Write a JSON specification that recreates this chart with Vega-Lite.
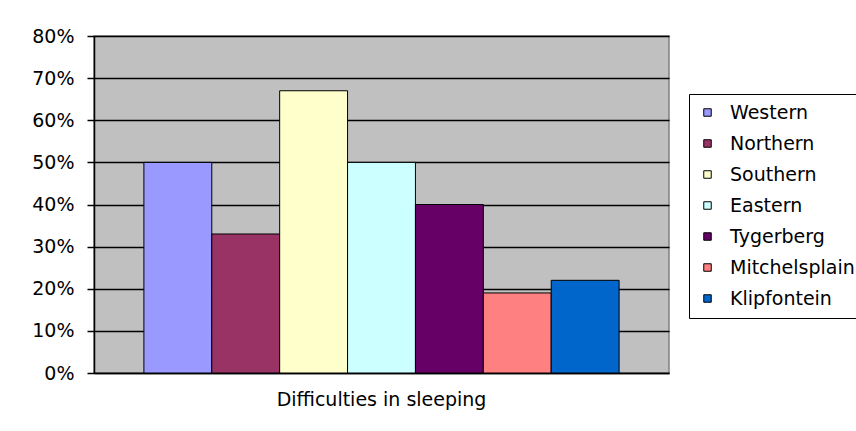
{
  "$schema": "https://vega.github.io/schema/vega-lite/v6.json",
  "width": 575,
  "height": 337,
  "autosize": {"type": "none"},
  "padding": {"left": 94, "top": 36, "right": 187, "bottom": 58},
  "background": "white",
  "data": {
    "values": [
      {"item": "Difficulties in sleeping", "region": "Western", "value": 0.50},
      {"item": "Difficulties in sleeping", "region": "Northern", "value": 0.33},
      {"item": "Difficulties in sleeping", "region": "Southern", "value": 0.67},
      {"item": "Difficulties in sleeping", "region": "Eastern", "value": 0.50},
      {"item": "Difficulties in sleeping", "region": "Tygerberg", "value": 0.40},
      {"item": "Difficulties in sleeping", "region": "Mitchelsplain", "value": 0.19},
      {"item": "Difficulties in sleeping", "region": "Klipfontein", "value": 0.22}
    ]
  },
  "mark": {"type": "bar", "stroke": "black", "strokeWidth": 1, "opacity": 1},
  "encoding": {
    "x": {
      "field": "item",
      "type": "nominal",
      "scale": {"paddingInner": 0, "paddingOuter": 0.105},
      "axis": {
        "title": null,
        "labelAngle": 0,
        "labelFont": "DejaVu Sans",
        "labelFontSize": 19,
        "labelColor": "black",
        "labelPadding": 17,
        "labelLimit": 500,
        "ticks": false,
        "domainColor": "black",
        "domainWidth": 1.5
      }
    },
    "xOffset": {
      "field": "region",
      "type": "nominal",
      "sort": ["Western", "Northern", "Southern", "Eastern", "Tygerberg", "Mitchelsplain", "Klipfontein"],
      "scale": {"paddingInner": 0, "paddingOuter": 0}
    },
    "y": {
      "field": "value",
      "type": "quantitative",
      "scale": {"domain": [0, 0.8], "nice": false},
      "axis": {
        "title": null,
        "values": [0, 0.1, 0.2, 0.3, 0.4, 0.5, 0.6, 0.7, 0.8],
        "format": ".0%",
        "labelFont": "DejaVu Sans",
        "labelFontSize": 19,
        "labelColor": "black",
        "labelPadding": 13,
        "tickSize": 7,
        "tickColor": "black",
        "tickWidth": 1.5,
        "domainColor": "black",
        "domainWidth": 1.5,
        "grid": true,
        "gridColor": "black",
        "gridWidth": 1.3,
        "gridOpacity": 1
      }
    },
    "color": {
      "field": "region",
      "type": "nominal",
      "sort": ["Western", "Northern", "Southern", "Eastern", "Tygerberg", "Mitchelsplain", "Klipfontein"],
      "scale": {
        "domain": ["Western", "Northern", "Southern", "Eastern", "Tygerberg", "Mitchelsplain", "Klipfontein"],
        "range": ["#9999FF", "#993366", "#FFFFCC", "#CCFFFF", "#660066", "#FF8080", "#0066CC"]
      },
      "legend": {
        "title": null,
        "orient": "none",
        "legendX": 595,
        "legendY": 58,
        "strokeColor": "black",
        "fillColor": "white",
        "padding": 9,
        "symbolType": "square",
        "symbolSize": 56,
        "symbolStrokeColor": "black",
        "symbolStrokeWidth": 1,
        "symbolOpacity": 1,
        "labelFont": "DejaVu Sans",
        "labelFontSize": 19,
        "labelColor": "black",
        "labelOffset": 13,
        "labelLimit": 300,
        "rowPadding": 11
      }
    }
  },
  "config": {
    "view": {"fill": "#C0C0C0", "stroke": "#808080", "strokeWidth": 1.5},
    "axis": {"gridCap": "butt"}
  }
}
